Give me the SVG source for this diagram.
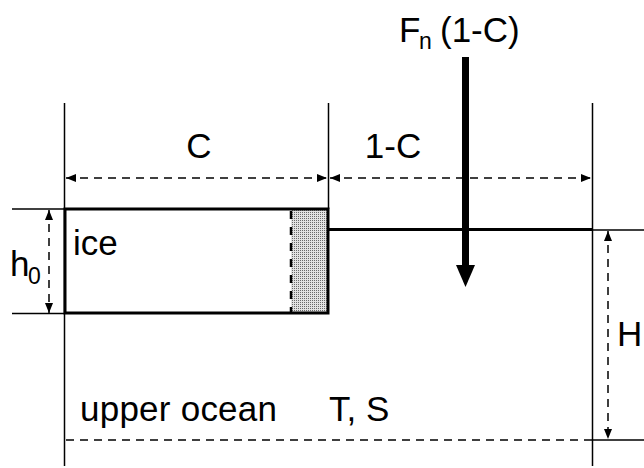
<svg xmlns="http://www.w3.org/2000/svg" width="644" height="468" viewBox="0 0 644 468">
  <style>
    .t { font-family: "Liberation Sans", Arial, sans-serif; font-size: 35px; fill: #000; }
    .sub { font-family: "Liberation Sans", Arial, sans-serif; font-size: 23px; fill: #000; }
    .thin { stroke: #000; stroke-width: 1.5; fill: none; }
    .thick { stroke: #000; stroke-width: 3; fill: none; }
    .dash { stroke: #000; stroke-width: 1.5; fill: none; stroke-dasharray: 8 6; }
    .dim { stroke: #000; stroke-width: 1.5; fill: none; stroke-dasharray: 8 6; marker-start: url(#ah); marker-end: url(#ah); }
  </style>
  <defs>
    <marker id="ah" viewBox="0 0 10 8" refX="10" refY="4" markerWidth="10" markerHeight="8" markerUnits="userSpaceOnUse" orient="auto-start-reverse">
      <path d="M0,0 L10,4 L0,8 Z" fill="#000"/>
    </marker>
    <pattern id="stip" width="2" height="2" patternUnits="userSpaceOnUse">
      <rect width="2" height="2" fill="#e2e2e2"/>
      <rect width="1" height="1" fill="#6a6a6a"/>
    </pattern>
  </defs>
  <rect width="644" height="468" fill="#fff"/>

  <g id="connectors">
    <line class="thin" x1="64.5" y1="103" x2="64.5" y2="466"/>
    <line class="thin" x1="592.5" y1="103" x2="592.5" y2="466"/>
    <line class="thin" x1="328.5" y1="103" x2="328.5" y2="209"/>
    <line class="dim" x1="66" y1="178" x2="327" y2="178"/>
    <line class="dim" x1="330" y1="178" x2="591" y2="178"/>
    <line class="thin" x1="12" y1="209" x2="64" y2="209"/>
    <line class="thin" x1="12" y1="313.5" x2="64" y2="313.5"/>
    <line class="dim" x1="49" y1="210" x2="49" y2="313"/>
    <line class="thick" x1="328" y1="229.5" x2="592" y2="229.5"/>
    <line class="thin" x1="592" y1="230" x2="644" y2="230"/>
    <line class="thin" x1="592" y1="440" x2="644" y2="440"/>
    <line class="dim" x1="608" y1="231" x2="608" y2="439"/>
    <line class="dash" x1="66" y1="440" x2="592" y2="440"/>
  </g>

  <g id="ice">
    <rect x="291" y="209" width="37" height="104" fill="url(#stip)"/>
    <line x1="291" y1="211" x2="291" y2="312" stroke="#000" stroke-width="2.5" stroke-dasharray="8 8"/>
    <rect class="thick" x="65" y="209" width="263" height="104"/>
    <text class="t" x="73" y="255">ice</text>
  </g>

  <g id="flux">
    <line x1="465.5" y1="57" x2="465.5" y2="267" stroke="#000" stroke-width="7"/>
    <path d="M456,265 L475,265 L465.5,287 Z" fill="#000"/>
    <text class="t" x="399" y="42">F</text>
    <text class="sub" x="419" y="49">n</text>
    <text class="t" x="440" y="42">(1-C)</text>
  </g>

  <g id="labels">
    <text class="t" x="199" y="158" text-anchor="middle">C</text>
    <text class="t" x="393" y="158" text-anchor="middle">1-C</text>
    <text class="t" x="10" y="276">h</text>
    <text class="sub" x="28" y="284">0</text>
    <text class="t" x="617" y="346">H</text>
  </g>

  <g id="ocean">
    <text class="t" x="80" y="421" textLength="197" lengthAdjust="spacing">upper ocean</text>
    <text class="t" x="329" y="421">T, S</text>
  </g>
</svg>
